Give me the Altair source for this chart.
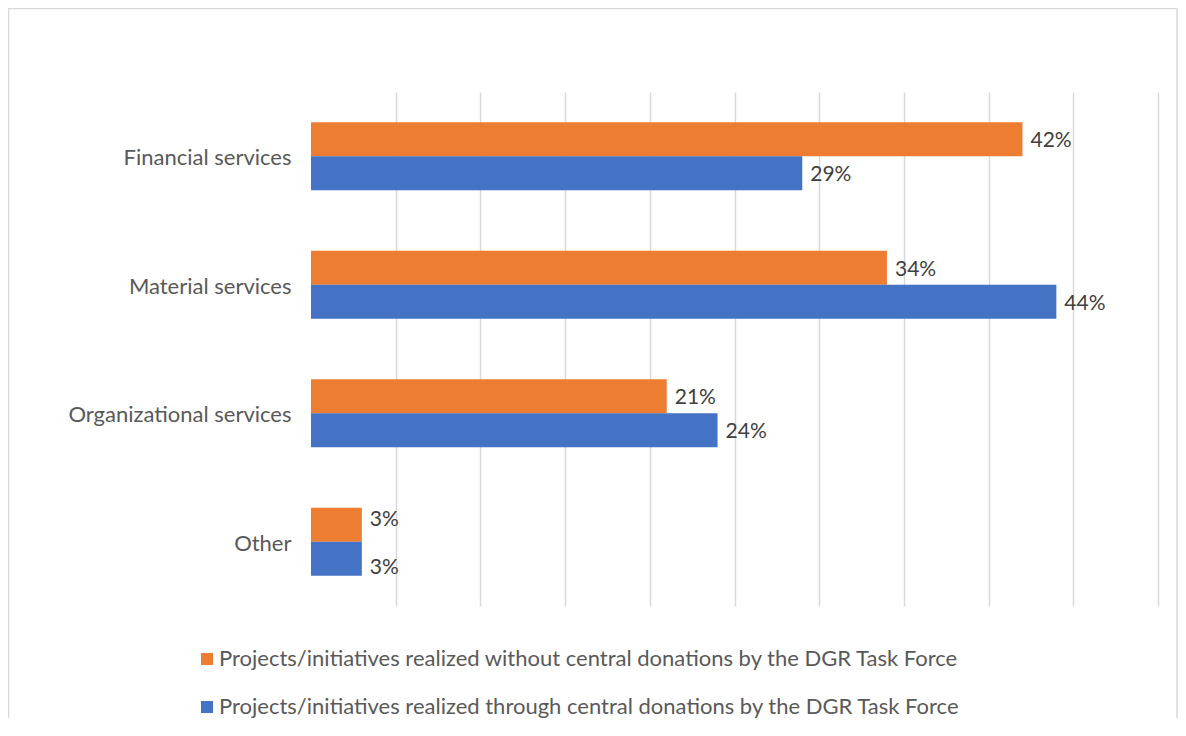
import altair as alt
import pandas as pd

categories = ["Financial services", "Material services", "Organizational services", "Other"]
series_names = [
    "Projects/initiatives realized without central donations by the DGR Task Force",
    "Projects/initiatives realized through central donations by the DGR Task Force",
]
without_central = [42, 34, 21, 3]
through_central = [29, 44, 24, 3]
grid_ticks = [5, 10, 15, 20, 25, 30, 35, 40, 45, 50]
colors = ["#ED7D31", "#4472C4"]

rows = []
for c, a, b in zip(categories, without_central, through_central):
    rows.append({"category": c, "series": series_names[0], "value": a})
    rows.append({"category": c, "series": series_names[1], "value": b})
df = pd.DataFrame(rows)

FONT = "Lato"

base = alt.Chart(df).transform_calculate(
    label="datum.value + '%'"
).encode(
    y=alt.Y(
        "category:N",
        sort=categories,
        scale=alt.Scale(paddingInner=0.47, paddingOuter=0.235),
        axis=alt.Axis(
            title=None, labelFontSize=22, labelColor="#595959", labelFont=FONT,
            ticks=False, domain=False, labelPadding=20, labelLimit=0, labelOffset=2,
        ),
    ),
    yOffset=alt.YOffset("series:N", sort=series_names,
                        scale=alt.Scale(paddingInner=0, paddingOuter=0)),
    x=alt.X(
        "value:Q",
        scale=alt.Scale(domain=[0, 50], nice=False),
        axis=alt.Axis(
            values=grid_ticks, labels=False, ticks=False, domain=False, title=None,
            grid=True, gridColor="#d9d9d9", gridWidth=1.5,
        ),
    ),
)

bars = base.mark_bar().encode(
    color=alt.Color(
        "series:N",
        sort=series_names,
        scale=alt.Scale(domain=series_names, range=colors),
        legend=alt.Legend(
            title=None, orient="none", legendX=-115, legendY=556,
            direction="vertical", symbolType="square", symbolSize=144,
            symbolStrokeWidth=0, labelFontSize=22, labelFont=FONT,
            labelColor="#595959", labelOffset=1, rowPadding=26, labelLimit=0,
        ),
    )
)

label_style = dict(align="left", baseline="middle", dx=8, fontSize=21, font=FONT, color="#404040")

labels_main = base.mark_text(dy=2, **label_style).encode(text="label:N").transform_filter(
    alt.datum.category != categories[-1]
)
labels_other_top = base.mark_text(dy=-5, **label_style).encode(text="label:N").transform_filter(
    (alt.datum.category == categories[-1]) & (alt.datum.series == series_names[0])
)
labels_other_bottom = base.mark_text(dy=9, **label_style).encode(text="label:N").transform_filter(
    (alt.datum.category == categories[-1]) & (alt.datum.series == series_names[1])
)

frame = alt.Chart(pd.DataFrame({"f": [0]})).mark_rect(
    fill=None, stroke="#d9d9d9", strokeWidth=1.5
).encode(
    x=alt.value(-302.5), x2=alt.value(866), y=alt.value(-83.5), y2=alt.value(660)
)

chart = alt.layer(frame, bars, labels_main, labels_other_top, labels_other_bottom).properties(
    width=847,
    height=514,
    autosize=alt.AutoSizeParams(type="none"),
    padding={"left": 303, "top": 84, "right": 20, "bottom": 112},
).configure_view(stroke=None)

chart.save("out.html", embed_options={"renderer": "svg", "actions": False})
